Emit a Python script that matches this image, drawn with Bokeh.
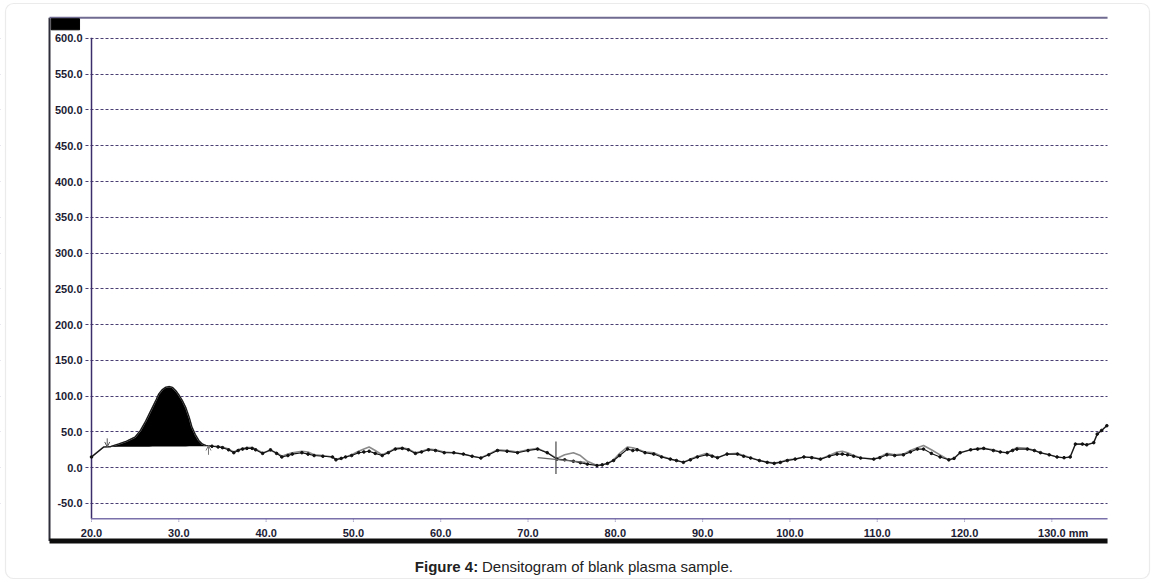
import numpy as np
from bokeh.plotting import figure
from bokeh.models import (Range1d, FixedTicker, PrintfTickFormatter,
                          BoxAnnotation, Label, Arrow, OpenHead)
from bokeh.embed import file_html
from bokeh.resources import INLINE

# ---- data ----
trace_x = [20.0, 21.4, 22.2, 23.1, 24.0, 25.0, 25.6, 26.2, 26.6, 27.0, 27.4, 27.7, 28.1, 28.5,
           28.9, 29.3, 29.7, 30.0, 30.4, 30.8, 31.2, 31.5, 31.9, 32.3, 32.7, 33.1, 33.8, 34.5,
           35.0, 35.7, 36.3, 36.8, 37.3, 37.8, 38.4, 38.8, 39.6, 40.5, 41.2, 41.8, 42.5, 43.0,
           44.1, 44.8, 45.5, 46.5, 47.6, 48.0, 48.6, 49.1, 49.8, 50.6, 51.2, 51.8, 52.5, 53.3,
           54.0, 54.8, 55.6, 56.3, 57.1, 57.8, 58.6, 59.4, 60.4, 61.5, 62.6, 63.6, 64.6, 65.5,
           66.5, 67.6, 68.8, 70.0, 71.1, 72.2, 73.3, 74.2, 75.2, 76.0, 76.8, 77.9, 78.5, 79.1,
           79.8, 80.5, 81.4, 82.0, 82.5, 83.4, 84.4, 85.3, 86.3, 87.0, 87.8, 88.6, 89.4, 90.5,
           91.1, 91.7, 92.8, 94.0, 94.7, 95.5, 96.5, 97.4, 98.2, 98.9, 99.7, 100.6, 101.6, 102.5,
           103.5, 104.5, 105.4, 106.0, 106.6, 107.3, 108.1, 109.6, 110.3, 111.1, 112.0, 113.0,
           113.8, 114.6, 115.3, 116.2, 117.2, 118.2, 118.8, 119.5, 120.7, 121.5, 122.2, 123.3,
           124.1, 124.9, 125.5, 126.0, 127.2, 128.0, 128.7, 129.7, 130.6, 131.4, 132.1, 132.7,
           133.5, 134.0, 134.8, 135.2, 135.7, 136.3]
black_y = [15, 29, 29.5, 33, 37, 43, 52, 65, 75, 85, 95, 103, 109, 112.5,
           113.5, 112, 107, 102, 94, 84, 70, 57, 46, 38, 33, 31, 30, 29,
           28, 25, 21, 24, 26, 27, 27, 25, 20, 25, 20, 15, 17, 19,
           21, 19, 17, 16, 15, 11, 13, 15, 17, 21, 22, 23, 20, 17,
           21, 26, 27, 25, 20, 22, 25, 24, 21, 21, 19, 16, 13.5, 18,
           24, 23, 21, 24, 26, 21, 12, 11, 9, 7, 5, 3, 4, 6,
           10, 17, 26, 24, 25, 21, 19, 15, 12, 10, 7.5, 11, 15, 18,
           16, 14, 19, 19, 16, 13.5, 10, 7.4, 6, 7.4, 10, 12, 15, 14,
           12, 16, 19, 19, 18, 16, 13.5, 12, 14, 18, 17, 18,
           22, 26, 26, 20, 15, 11, 13, 21, 25, 26, 27, 24,
           22, 21, 24, 26, 26, 24, 21, 18, 15, 14, 15, 33,
           33, 32, 35, 47, 52, 58.7]
gray_y = [15, 29, 29.5, 33, 37, 43, 52, 65, 75, 85, 95, 103, 109, 112.5,
          113.5, 112, 107, 102, 94, 84, 70, 57, 46, 38, 33, 31, 30, 30,
          29, 26, 22, 25, 27, 28, 28, 26, 21, 24, 21, 16, 19, 21,
          23, 22, 18, 17, 15, 12, 13, 15, 18, 23, 26, 29, 24, 18,
          22, 27, 28, 26, 21, 23, 26, 25, 22, 21, 19, 16, 14, 19,
          25, 24, 22, 25, 27, 21, 13, 18, 21, 17, 9, 3, 4, 6,
          11, 20, 29, 28, 26, 22, 21, 16, 12, 10, 7.5, 12, 16, 20,
          17, 14, 19, 20, 17, 14, 10, 8, 6.5, 8, 11, 12, 15, 15,
          12, 17, 22, 23, 21, 17, 14, 12, 15, 20, 18, 19,
          24, 28, 31, 25, 18, 11, 13, 21, 25, 27, 27, 25,
          22, 21, 25, 28, 27, 24, 21, 18, 15, 14, 15, 33,
          33, 32, 35, 47, 52, 58.7]

x_ticks = [20, 30, 40, 50, 60, 70, 80, 90, 100, 110, 120, 130]
y_ticks = [-50, 0, 50, 100, 150, 200, 250, 300, 350, 400, 450, 500, 550, 600]

peak_start, peak_end = 21.4, 33.1
peak_baseline = [29.0, 30.0]
start_arrow = [21.8, 41, 29]
end_arrow = [33.4, 18, 31]
cut_x = 73.2
cut_v = [36.7, -8.8]
cut_h = [71.1, 14.0, 76.6, 7.5]

# ---- geometry (the frame covers the whole canvas) ----
W, H = 1152, 582
X_START, X_END = 9.576, 141.53
Y_START, Y_END = -160.47, 653.06
BOX_X0, BOX_X1 = 15.19, 136.38       # inner chart box
BOX_TOP = 628.9
BAR_Y = -102.5                       # black bar under the tick labels
AXIS_X0 = 20.0
AXIS_Y0 = -71.2
AXIS_Y1 = 601.0
GRID_X0 = 19.2

FONT = "Liberation Sans"
LABEL_COLOR = "#1b1b33"

p = figure(width=W, height=H,
           x_range=Range1d(X_START, X_END), y_range=Range1d(Y_START, Y_END),
           output_backend="svg", toolbar_location=None,
           min_border_left=0, min_border_right=0, min_border_top=0, min_border_bottom=0)
p.outline_line_color = None
p.background_fill_color = "white"
p.border_fill_color = "white"

# x axis labels (sitting above the black bar)
xa = p.xaxis[0]
xa.ticker = FixedTicker(ticks=x_ticks)
xa.formatter = PrintfTickFormatter(format="%.1f")
xa.major_tick_line_color = None
xa.minor_tick_line_color = None
xa.major_tick_out = 0
xa.major_tick_in = 0
xa.axis_line_color = None
xa.major_label_standoff = -54
xa.major_label_text_font = FONT
xa.major_label_text_font_style = "bold"
xa.major_label_text_font_size = "11px"
xa.major_label_text_color = LABEL_COLOR

# y axis labels (inside the chart box)
ya = p.yaxis[0]
ya.ticker = FixedTicker(ticks=y_ticks)
ya.formatter = PrintfTickFormatter(format="%.1f")
ya.major_tick_line_color = None
ya.minor_tick_line_color = None
ya.major_tick_out = 0
ya.major_tick_in = 0
ya.axis_line_color = None
ya.major_label_standoff = -82
ya.major_label_text_font = FONT
ya.major_label_text_font_style = "bold"
ya.major_label_text_font_size = "11px"
ya.major_label_text_color = LABEL_COLOR

# grid (masked outside the trace area)
p.xgrid.visible = False
p.ygrid.ticker = FixedTicker(ticks=y_ticks)
p.ygrid.grid_line_color = "#4a3f72"
p.ygrid.grid_line_dash = "3 2"
p.ygrid.grid_line_width = 1.2
p.add_layout(BoxAnnotation(left=X_START - 5, right=GRID_X0, fill_color="white", fill_alpha=1.0,
                           line_color=None, level="underlay"))
p.add_layout(BoxAnnotation(left=BOX_X1, right=X_END + 5, fill_color="white", fill_alpha=1.0,
                           line_color=None, level="underlay"))

# chart box: left border, top border, bottom black bar
p.segment(x0=[BOX_X0], y0=[BAR_Y], x1=[BOX_X0], y1=[BOX_TOP], line_color="#2e2e3a", line_width=2)
p.segment(x0=[BOX_X0], y0=[BOX_TOP], x1=[BOX_X1], y1=[BOX_TOP], line_color="#6f6a90", line_width=2)
p.segment(x0=[BOX_X0], y0=[BAR_Y], x1=[BOX_X1], y1=[BAR_Y], line_color="#0d0d0d", line_width=5)

# axis lines of the trace area
p.segment(x0=[AXIS_X0], y0=[AXIS_Y0], x1=[AXIS_X0], y1=[AXIS_Y1],
          line_color="#3b2d6b", line_width=1.5)
p.segment(x0=[AXIS_X0], y0=[AXIS_Y0], x1=[BOX_X1], y1=[AXIS_Y0],
          line_color="#7a70aa", line_width=1.5)
p.segment(x0=x_ticks, y0=[AXIS_Y0] * len(x_ticks), x1=x_ticks,
          y1=[AXIS_Y0 - 5] * len(x_ticks), line_color="#7a70aa", line_width=1, line_dash="1 1")

# black corner box
p.quad(left=[15.38], right=[18.63], bottom=[612.1], top=[627.5],
       fill_color="black", line_color="black")

# peak fill
tx = np.array(trace_x)
by = np.array(black_y)
sel = (tx >= peak_start) & (tx <= peak_end)
px = tx[sel]
base = np.interp(px, [peak_start, peak_end], peak_baseline)
p.varea(x=px, y1=base, y2=by[sel], fill_color="black")

# traces
p.line(trace_x, gray_y, line_color="#8a8a8a", line_width=1.6)
p.line(trace_x, black_y, line_color="#111111", line_width=1.1)
dots = ~sel
p.scatter(tx[dots], by[dots], size=2.6, color="#111111")

# peak limit arrows
p.add_layout(Arrow(x_start=start_arrow[0], y_start=start_arrow[1], x_end=start_arrow[0],
                   y_end=start_arrow[2], line_color="#555555", line_width=1,
                   end=OpenHead(size=5, line_color="#555555", line_width=1)))
p.add_layout(Arrow(x_start=end_arrow[0], y_start=end_arrow[1], x_end=end_arrow[0],
                   y_end=end_arrow[2], line_color="#777777", line_width=1,
                   end=OpenHead(size=5, line_color="#777777", line_width=1)))

# cut marker
p.segment(x0=[cut_x], y0=[cut_v[0]], x1=[cut_x], y1=[cut_v[1]], line_color="#555555", line_width=1.3)
p.segment(x0=[cut_h[0]], y0=[cut_h[1]], x1=[cut_h[2]], y1=[cut_h[3]], line_color="#666666", line_width=1.2)

# unit label
p.add_layout(Label(x=130, y=55.5, y_units="screen", x_offset=17, text="mm",
                   text_font=FONT, text_font_style="bold", text_font_size="11px",
                   text_color=LABEL_COLOR, text_baseline="top", text_align="left"))

# caption
p.add_layout(Label(x=477.7, y=16, x_units="screen", y_units="screen", text="Figure 4:",
                   text_font=FONT, text_font_style="bold", text_font_size="15px",
                   text_color="#222222", text_align="right", text_baseline="alphabetic"))
p.add_layout(Label(x=481.5, y=16, x_units="screen", y_units="screen",
                   text="Densitogram of blank plasma sample.",
                   text_font=FONT, text_font_size="15px",
                   text_color="#222222", text_align="left", text_baseline="alphabetic"))

# outer rounded border
p.add_layout(BoxAnnotation(left=5, right=1149, bottom=4, top=579,
                           left_units="screen", right_units="screen",
                           bottom_units="screen", top_units="screen",
                           fill_alpha=0, line_color="#bdbdbd", line_width=1.2,
                           border_radius=8))

open("out.html", "w").write(file_html(p, INLINE))
